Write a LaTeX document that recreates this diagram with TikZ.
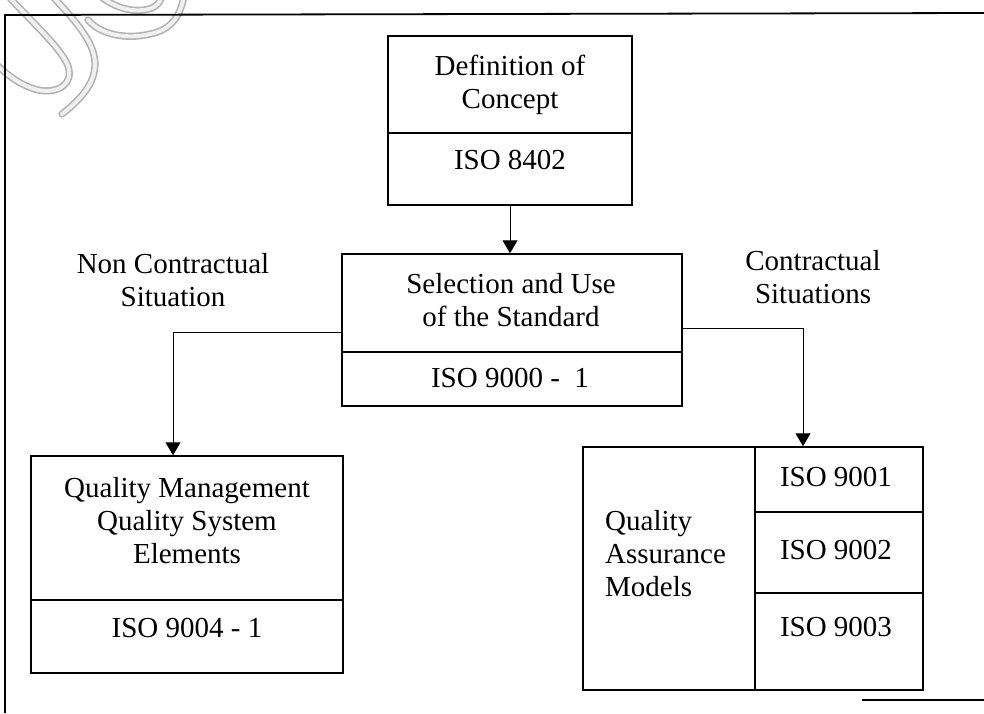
\documentclass[tikz,border=0pt]{standalone}
\usepackage{fontspec}
\setmainfont{Liberation Serif}
\usetikzlibrary{fit,arrows.meta}

\tikzset{
  boxpart/.style={draw, line width=1.5pt, rectangle, inner sep=0pt},
  lbl/.style={font=\fontsize{29}{33}\selectfont, align=center, inner sep=0pt},
  conn/.style={line width=1pt, -{Triangle[width=15pt,length=13pt]}},
  frameline/.style={line width=1.8pt},
  clipwire/.style={draw=gray!60, line width=1.6pt, double=gray!12,
                   double distance=4pt, line cap=round}
}

\begin{document}
\begin{tikzpicture}[x=1pt,y=-1pt]
\useasboundingbox (0,0) rectangle (984,713);

% paper clip shadow in the corner
\draw[clipwire] (8,-4) .. controls (40,30) and (62,50) .. (68,66)
            .. controls (74,84) and (58,94) .. (38,90)
            .. controls (22,86) and (8,76) .. (-4,64);
\draw[clipwire] (52,-4) .. controls (80,25) and (95,45) .. (95,64)
            .. controls (95,84) and (80,100) .. (62,114);
\draw[clipwire] (88,20) .. controls (100,34) and (125,40) .. (150,34)
            .. controls (170,30) and (180,18) .. (184,-4);
\draw[clipwire] (100,-4) .. controls (115,8) and (135,14) .. (152,8)
            .. controls (158,5) and (160,2) .. (162,-4);

% page frame
\draw[frameline] (984,13) -- (5,15) -- (5,713);
\draw[frameline] (862,700) -- (984,700);

% Definition of Concept
\node[boxpart, fit={(388,36) (632,133)}] (defTop) {};
\node[boxpart, fit={(388,133) (632,205)}] (defBot) {};
\node[lbl] (defTxt) at (510,85) {Definition of\\Concept};
\node[lbl] (defIso) at (510,160) {ISO 8402};

% Selection and Use of the Standard
\node[boxpart, fit={(342,254) (682,352)}] (selTop) {};
\node[boxpart, fit={(342,352) (682,406)}] (selBot) {};
\node[lbl] (selTxt) at (511,300) {Selection and Use\\of the Standard};
\node[lbl] (selIso) at (510,378) {ISO 9000 -\ \ 1};

% Quality Management
\node[boxpart, fit={(31,456) (343,600)}] (qmTop) {};
\node[boxpart, fit={(31,600) (343,673)}] (qmBot) {};
\node[lbl] (qmTxt) at (187,521) {Quality Management\\Quality System\\Elements};
\node[lbl] (qmIso) at (187,628) {ISO 9004 - 1};

% Quality Assurance Models
\node[boxpart, fit={(583,447) (755,690)}] (qaL) {};
\node[boxpart, fit={(755,447) (923,512)}] (qaA) {};
\node[boxpart, fit={(755,512) (923,593)}] (qaB) {};
\node[boxpart, fit={(755,593) (923,690)}] (qaC) {};
\node[lbl, align=left, anchor=west] (qaTxt) at (605,554) {Quality\\Assurance\\Models};
\node[lbl] (qaIsoA) at (836,477) {ISO 9001};
\node[lbl] (qaIsoB) at (836,550) {ISO 9002};
\node[lbl] (qaIsoC) at (836,627) {ISO 9003};

% situation labels
\node[lbl] (nonTxt) at (173,280) {Non Contractual\\Situation};
\node[lbl] (conTxt) at (813,277) {Contractual\\Situations};

% connectors
\coordinate (lk) at (173,332);
\coordinate (rk) at (803,328);
\draw[conn] (defBot.south) -- (defBot.south |- selTop.north);
\draw[conn] (selTop.west |- lk) -- (lk) -- (lk |- qmTop.north);
\draw[conn] (selTop.east |- rk) -- (rk) -- (rk |- qaA.north);
\end{tikzpicture}
\end{document}
